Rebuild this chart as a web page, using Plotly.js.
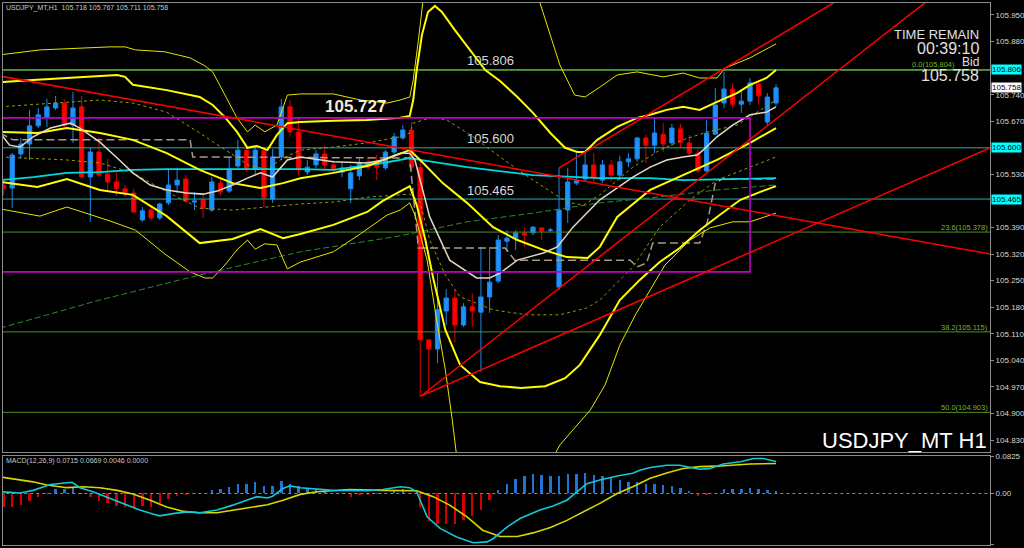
<!DOCTYPE html>
<html><head><meta charset="utf-8">
<script src="https://cdn.plot.ly/plotly-3.0.1.min.js"></script>
<style>html,body{margin:0;padding:0;background:#000;}#chart{width:1024px;height:548px;}</style>
</head><body><div id="chart"></div>
<script>
// ---------------- DATA ----------------
const symbolName = 'USDJPY_MT';
const timeframe = 'H1';
const open = [
105.502,105.494,105.584,105.610,105.658,105.681,105.705,105.718,105.660,105.708,
105.523,105.589,105.531,105.510,105.492,105.481,105.410,105.436,105.415,105.455,
105.502,105.518,105.457,105.463,105.436,105.507,105.486,105.552,105.594,105.544,
105.592,105.465,105.576,105.708,105.642,105.536,105.555,105.584,105.555,105.536,
105.492,105.526,105.563,105.563,105.547,105.589,105.626,105.647,105.549,105.094,
105.070,105.170,105.204,105.133,105.181,105.167,105.207,105.249,105.354,105.362,
105.376,105.376,105.389,105.383,105.233,105.436,105.507,105.518,105.555,105.515,
105.555,105.528,105.563,105.571,105.626,105.607,105.636,105.613,105.650,105.613,
105.586,105.539,105.636,105.718,105.755,105.715,105.723,105.768,105.668,105.718];
const high = [
105.515,105.586,105.626,105.700,105.705,105.729,105.737,105.729,105.747,105.737,
105.600,105.629,105.571,105.536,105.502,105.492,105.444,105.447,105.455,105.544,
105.547,105.528,105.484,105.476,105.523,105.520,105.576,105.621,105.605,105.602,
105.602,105.597,105.729,105.726,105.679,105.568,105.594,105.605,105.568,105.560,
105.555,105.573,105.576,105.581,105.594,105.639,105.660,105.668,105.568,105.094,
105.270,105.228,105.225,105.191,105.217,105.339,105.339,105.370,105.383,105.383,
105.391,105.394,105.391,105.389,105.547,105.547,105.586,105.586,105.586,105.568,
105.568,105.579,105.586,105.629,105.634,105.679,105.665,105.663,105.663,105.634,
105.600,105.673,105.758,105.800,105.771,105.755,105.784,105.779,105.744,105.767];
const low = [
105.476,105.441,105.571,105.568,105.652,105.655,105.700,105.655,105.613,105.520,
105.405,105.523,105.486,105.473,105.470,105.428,105.405,105.410,105.410,105.449,
105.481,105.455,105.436,105.415,105.431,105.476,105.481,105.547,105.536,105.528,
105.444,105.455,105.568,105.629,105.528,105.528,105.547,105.542,105.534,105.523,
105.455,105.515,105.542,105.515,105.542,105.581,105.621,105.542,104.943,104.954,
105.033,105.133,105.088,105.128,105.128,105.009,105.165,105.244,105.326,105.331,
105.339,105.370,105.357,105.378,105.225,105.402,105.502,105.510,105.502,105.507,
105.510,105.515,105.549,105.563,105.560,105.586,105.589,105.605,105.600,105.581,
105.534,105.536,105.634,105.705,105.705,105.692,105.713,105.713,105.660,105.711];
const close = [
105.492,105.581,105.610,105.658,105.687,105.708,105.718,105.660,105.705,105.523,
105.589,105.528,105.510,105.492,105.481,105.431,105.434,105.415,105.452,105.502,
105.515,105.460,105.460,105.441,105.510,105.484,105.544,105.594,105.544,105.594,
105.468,105.576,105.708,105.642,105.542,105.549,105.584,105.555,105.542,105.547,
105.534,105.560,105.549,105.549,105.589,105.629,105.647,105.549,105.094,105.070,
105.173,105.204,105.133,105.181,105.170,105.207,105.246,105.357,105.362,105.376,
105.370,105.391,105.381,105.383,105.436,105.510,105.513,105.555,105.523,105.555,
105.528,105.563,105.571,105.626,105.607,105.639,105.610,105.652,105.615,105.586,
105.539,105.639,105.713,105.755,105.715,105.723,105.771,105.737,105.734,105.758];

const bbU3X = [-0.4,4.2,12.3,14.0,15.2,18.6,21.5,23.2,24.1,25.5,26.9,28.1,29.0,30.1,31.5,32.7,34.2,38.0,41.1,44.2,45.7,46.8,47.2,47.8,48.3,49.1,60.7,61.8,63.0,64.1,65.8,67.0,68.7,70.7,73.0,76.0,78.3,80.2,82.2,83.1,86.0,88.3,89];
const bbU3Y = [105.845,105.858,105.866,105.866,105.858,105.853,105.837,105.816,105.800,105.739,105.679,105.642,105.660,105.642,105.660,105.739,105.742,105.742,105.726,105.718,105.726,105.734,105.779,105.884,105.982,106.095,106.095,105.982,105.897,105.818,105.739,105.734,105.760,105.792,105.800,105.787,105.797,105.784,105.784,105.810,105.837,105.866,105.874];
const bbU2X = [-0.4,3.4,13.1,14.0,14.9,18.8,22.6,24.1,25.5,26.9,28.1,29.2,30.4,31.5,32.7,34.2,38.0,41.9,45.7,46.8,47.2,47.6,48.2,48.9,49.7,50.5,52.0,53.7,55.5,57.2,59.2,61.0,63.0,64.7,66.1,67.0,68.4,70.7,73.0,74.5,76.4,78.3,80.2,82.2,84.5,86.0,87.9,89];
const bbU2Y = [105.773,105.779,105.792,105.787,105.766,105.752,105.734,105.713,105.681,105.642,105.600,105.605,105.594,105.634,105.665,105.668,105.671,105.673,105.679,105.684,105.726,105.805,105.897,105.958,105.974,105.958,105.910,105.858,105.805,105.776,105.734,105.692,105.639,105.600,105.589,105.589,105.621,105.655,105.679,105.687,105.700,105.708,105.700,105.721,105.744,105.766,105.784,105.805];
const bbU1X = [-0.4,5.4,11.1,14.9,18.8,22.6,26.4,28.4,30.4,32.2,34.2,38.0,41.9,45.7,46.8,47.2,49.5,51.1,54.1,57.2,61.0,64.9,66.8,68.7,72.5,75.6,78.3,81.1,84.5,89];
const bbU1Y = [105.708,105.718,105.726,105.718,105.694,105.639,105.581,105.552,105.544,105.573,105.594,105.602,105.613,105.629,105.639,105.665,105.681,105.673,105.629,105.576,105.515,105.457,105.449,105.476,105.549,105.594,105.621,105.642,105.660,105.726];
const bbMidX = [-0.4,3.9,7.3,11.1,14.9,18.8,22.6,26.4,29.6,32.2,34.2,38.0,41.9,43.7,46.8,48.0,50.6,53.4,56.4,59.2,62.2,64.9,67.3,68.7,70.7,74.5,78.3,82.2,86.0,89];
const bbMidY = [105.642,105.639,105.652,105.639,105.621,105.586,105.542,105.507,105.494,105.507,105.520,105.534,105.552,105.568,105.594,105.568,105.507,105.455,105.391,105.357,105.331,105.312,105.310,105.339,105.418,105.489,105.528,105.568,105.613,105.652];
const bbL1X = [-0.4,2.7,7.3,11.1,14.9,18.8,22.6,26.4,30.4,34.2,38.0,41.9,45.7,46.8,48.0,49.1,50.9,52.6,56.4,60.3,64.1,67.2,68.7,72.5,75.6,79.1,82.2,86.0,89];
const bbL1Y = [105.576,105.573,105.568,105.560,105.534,105.484,105.441,105.436,105.444,105.452,105.457,105.470,105.476,105.478,105.457,105.357,105.265,105.207,105.173,105.160,105.160,105.178,105.199,105.286,105.391,105.463,105.515,105.549,105.576];
const bbL2X = [-0.4,3.9,7.3,11.1,14.9,18.8,22.6,26.4,29.6,32.2,34.2,38.0,41.9,43.7,46.8,47.6,48.6,49.5,50.9,52.6,54.9,57.2,59.6,62.4,64.7,66.4,68.7,71.0,73.3,75.6,77.9,80.2,82.5,84.9,87.2,89];
const bbL2Y = [105.510,105.497,105.518,105.489,105.476,105.420,105.349,105.360,105.386,105.362,105.373,105.397,105.431,105.460,105.499,105.449,105.357,105.257,105.120,105.028,104.983,104.972,104.967,104.972,104.993,105.028,105.107,105.199,105.252,105.299,105.336,105.383,105.423,105.463,105.484,105.499];
const bbL3X = [-0.4,4.2,7.3,12.3,15.2,18.6,21.5,23.2,24.1,25.5,26.9,28.1,29.0,30.1,31.5,32.7,34.2,38.0,41.1,44.2,45.7,46.8,47.4,48.8,49.9,50.9,51.7,52.4,53.7,61.8,63.0,64.1,65.8,67.6,69.3,71.0,72.8,74.5,76.2,79.1,81.4,84.0,86.0,87.7,89];
const bbL3Y = [105.439,105.420,105.444,105.407,105.383,105.320,105.273,105.257,105.257,105.291,105.331,105.357,105.333,105.347,105.344,105.281,105.299,105.326,105.373,105.423,105.436,105.455,105.423,105.304,105.146,105.015,104.883,104.751,104.725,104.725,104.772,104.817,104.862,104.909,104.975,105.080,105.160,105.225,105.291,105.357,105.389,105.405,105.405,105.418,105.428];

// Moving averages
const maFastX = [-0.4,0.7,1.9,3.4,5.4,7.7,8.8,11.1,13.1,14.9,16.9,18.8,21.1,23.0,24.6,26.4,28.1,29.6,31.0,32.7,34.2,38.0,41.9,43.7,45.7,46.8,47.4,48.0,49.1,51.4,54.5,56.0,57.2,59.2,62.2,63.8,65.6,68.7,70.7,72.5,74.5,76.4,78.3,79.9,80.6,82.2,84.0,86.0,87.9,89];
const maFastY = [105.639,105.607,105.602,105.629,105.652,105.665,105.652,105.615,105.573,105.534,105.502,105.489,105.481,105.478,105.486,105.502,105.520,105.534,105.523,105.568,105.576,105.563,105.560,105.568,105.586,105.586,105.568,105.515,105.418,105.304,105.257,105.257,105.270,105.304,105.323,105.339,105.391,105.463,105.494,105.523,105.549,105.568,105.576,105.581,105.594,105.629,105.660,105.687,105.694,105.708];
const maMidX = [-0.4,3.4,7.3,11.1,14.9,18.8,30.4,34.2,38.0,43.7,46.8,48.0,53.4,61.0,68.7,74.5,78.3,89];
const maMidY = [105.515,105.523,105.534,105.536,105.542,105.544,105.544,105.544,105.542,105.560,105.573,105.568,105.549,105.528,105.520,105.520,105.515,105.520];
const maSlowX = [-0.4,11.1,22.6,34.2,45.7,53.4,61.0,68.7,74.5,82.2,89];
const maSlowY = [105.125,105.199,105.265,105.326,105.368,105.405,105.428,105.455,105.468,105.489,105.502];
const baseX = [-0.4,1.1,21.5,21.8,46.8,47.8,57.8,58.9,72.2,73.0,74.1,74.8,80.2,81.1,82.0,82.8,89];
const baseY = [105.639,105.621,105.621,105.576,105.573,105.336,105.336,105.304,105.304,105.286,105.297,105.349,105.349,105.405,105.507,105.518,105.518];

// Objects
const hLevels = [105.806, 105.600, 105.465];
const fibRatios = [0.0, 23.6, 38.2, 50.0];
const fibPrices = [105.804, 105.378, 105.115, 104.903];
const boxX = [-5, 86.0];
const boxY = [105.679, 105.273];
const trendLines = [
  {x:[-0.4,113.65], y:[105.789,105.320]},
  {x:[64.0,97.5],   y:[105.547,106.008]},
  {x:[48.1,106.7],  y:[104.946,105.992]},
  {x:[48.1,113.65], y:[104.946,105.600]}
];
const markLabel = 105.727;
const bidPrice = 105.758;
const timeRemain = '00:39:10';

// MACD(12,26,9)
const macdHist = [
-0.031,-0.030,-0.025,-0.017,-0.007,-0.001,0.009,0.009,0.013,-0.002,
-0.007,-0.016,-0.022,-0.028,-0.031,-0.032,-0.028,-0.030,-0.022,-0.013,
-0.006,-0.004,-0.001,0.000,0.007,0.009,0.015,0.021,0.021,0.025,
0.017,0.017,0.028,0.022,0.017,0.011,0.010,0.006,0.002,-0.002,
-0.007,-0.004,-0.004,-0.002,0.001,0.006,0.009,0.001,-0.031,-0.061,
-0.067,-0.067,-0.067,-0.060,-0.050,-0.036,-0.015,0.007,0.022,0.032,
0.039,0.043,0.041,0.039,0.039,0.043,0.043,0.045,0.041,0.039,
0.034,0.030,0.026,0.025,0.022,0.021,0.019,0.016,0.013,0.005,
-0.005,-0.004,0.000,0.009,0.010,0.010,0.013,0.011,0.007,0.0046];
const macdX = [-0.4,1.9,3.4,5.4,7.3,7.9,8.8,10.3,12.3,14.2,15.7,17.2,18.0,19.5,21.1,22.6,24.6,26.4,28.1,29.2,30.4,31.0,32.2,33.0,34.2,38.0,41.9,43.7,45.7,46.8,47.6,48.8,50.3,52.2,54.1,55.7,56.4,58.0,59.5,61.8,63.3,64.9,66.1,67.2,68.7,70.7,72.5,73.3,74.5,76.4,77.9,79.1,80.2,81.4,82.9,84.9,86.4,87.5,89];
const macdY = [0.004,0.001,0.007,0.020,0.024,0.025,0.013,0.004,-0.011,-0.026,-0.037,-0.046,-0.050,-0.045,-0.041,-0.043,-0.037,-0.026,-0.015,-0.007,-0.010,-0.006,0.011,0.017,0.013,0.007,0.006,0.009,0.015,0.013,0.004,-0.052,-0.078,-0.097,-0.110,-0.108,-0.101,-0.075,-0.056,-0.037,-0.028,-0.015,0.004,0.022,0.030,0.039,0.045,0.052,0.058,0.063,0.063,0.058,0.054,0.056,0.066,0.071,0.078,0.078,0.0715];
const signalX = [-0.4,3.4,5.0,7.3,9.2,11.1,13.1,14.9,16.9,18.8,20.7,22.6,24.6,26.4,28.4,30.4,32.2,34.2,36.1,38.0,39.9,43.7,47.6,49.5,51.4,53.4,55.2,57.2,59.2,61.0,63.0,64.9,66.8,68.7,70.7,72.5,74.5,76.4,78.3,80.2,82.2,84.0,86.0,89];
const signalY = [0.037,0.026,0.019,0.013,0.015,0.013,0.007,-0.001,-0.015,-0.030,-0.040,-0.043,-0.043,-0.037,-0.031,-0.025,-0.015,-0.002,0.004,0.007,0.009,0.007,0.006,-0.007,-0.026,-0.052,-0.082,-0.096,-0.096,-0.088,-0.076,-0.060,-0.041,-0.022,0.000,0.015,0.034,0.046,0.056,0.060,0.061,0.063,0.066,0.0669];
const macdTicks = [0.0825, 0.0, -0.1148];
const priceTicks = [105.950,105.880,105.810,105.740,105.670,105.600,105.530,105.460,105.390,105.320,105.250,105.180,105.110,105.040,104.970,104.900,104.830];

// ---------------- RENDER ----------------
const XR = [-0.06, 113.65];
const barIdx = open.map((_, i) => i);
const FONT = 'Liberation Sans, Arial, sans-serif';
const PX = x => (x - 3) / 987;
const PY = y => (545 - y) / 542;

function ln(x, y, color, width, dash, ax) {
  return {type:'scatter', mode:'lines', x:x, y:y, xaxis: ax ? 'x2':'x', yaxis: ax ? 'y2':'y',
    line:{color:color, width:width, dash:dash || 'solid'}, hoverinfo:'skip'};
}

const traces = [];
traces.push({type:'candlestick', x:barIdx, open:open, high:high, low:low, close:close, xaxis:'x', yaxis:'y',
  increasing:{line:{color:'#1e88e8', width:1}, fillcolor:'#1e90ff'},
  decreasing:{line:{color:'#e00000', width:1}, fillcolor:'#ff0000'},
  whiskerwidth:0, hoverinfo:'skip'});

fibPrices.forEach(p => traces.push(ln([XR[0]-1, XR[1]+1], [p, p], '#4f8f1f', 1)));
hLevels.forEach(p => traces.push(ln([XR[0]-1, XR[1]+1], [p, p], '#20b2aa', 1)));

traces.push(ln(maSlowX, maSlowY, '#2e8b2e', 1, '6px,3px'));
traces.push(ln(baseX, baseY, '#a89888', 1.5, '8px,4px'));
traces.push(ln(bbU1X, bbU1Y, '#9a9a00', 1, 'dot'));
traces.push(ln(bbL1X, bbL1Y, '#9a9a00', 1, 'dot'));
traces.push(ln(bbU3X, bbU3Y, '#e6e600', 1));
traces.push(ln(bbL3X, bbL3Y, '#e6e600', 1));
traces.push(ln(maMidX, maMidY, '#00d8e0', 1.8));
traces.push(ln(bbU2X, bbU2Y, '#ffff00', 2));
traces.push(ln(bbL2X, bbL2Y, '#ffff00', 2));
traces.push(ln(bbMidX, bbMidY, '#ffff00', 2));
traces.push(ln(maFastX, maFastY, '#e6d6c6', 1.5));

traces.push(ln([boxX[0], boxX[1], boxX[1], boxX[0]], [boxY[0], boxY[0], boxY[1], boxY[1]], '#c000c8', 1.6));
trendLines.forEach(t => traces.push(ln(t.x, t.y, '#ff0000', 1.5)));

traces.push({type:'bar', x:barIdx, y:macdHist, xaxis:'x2', yaxis:'y2', width:0.28,
  marker:{color: macdHist.map(v => v >= 0 ? '#1f74d6' : '#d40000'), line:{width:0}}, hoverinfo:'skip'});
traces.push(ln([XR[0]-1, XR[1]+1], [0, 0], '#8a8a8a', 1, 'dot', true));
traces.push(ln(signalX, signalY, '#d6d600', 1.6, 'solid', true));
traces.push(ln(macdX, macdY, '#10c8d8', 1.6, 'solid', true));

const ann = [];
function A(o) { ann.push(Object.assign({showarrow:false, borderpad:0, font:{family:FONT, size:8, color:'#d8d8d8'}}, o)); }

A({xref:'paper', yref:'paper', x:PX(5), y:PY(8), xanchor:'left', yanchor:'middle',
   text: symbolName + ',' + timeframe + '\u00a0\u00a0' + [open[89], high[89], low[89], close[89]].map(v => v.toFixed(3)).join(' '),
   font:{family:FONT, size:7, color:'#c8c8c8'}});
A({xref:'paper', yref:'paper', x:PX(5), y:PY(461), xanchor:'left', yanchor:'middle',
   text: 'MACD(12,26,9) ' + macdY[macdY.length-1].toFixed(4) + ' ' + signalY[signalY.length-1].toFixed(4) + ' ' + macdHist[89].toFixed(4) + ' 0.0000',
   font:{family:FONT, size:7, color:'#c8c8c8'}});
hLevels.forEach(p => A({xref:'x', yref:'y', x:56.1, y:p, xanchor:'center', yanchor:'middle', yshift:9,
   text:p.toFixed(3), font:{family:FONT, size:13, color:'#d8d8d8'}}));
A({xref:'x', yref:'y', x:36.9, y:markLabel, xanchor:'left', yanchor:'top', yshift:4, text:'<b>' + markLabel.toFixed(3) + '</b>',
   font:{family:FONT, size:17, color:'#f3ead8'}});
A({xref:'paper', yref:'paper', x:PX(980), y:PY(35), xanchor:'right', yanchor:'middle', text:'TIME REMAIN', font:{family:FONT, size:13, color:'#e0e0e0'}});
A({xref:'paper', yref:'paper', x:PX(980), y:PY(48.5), xanchor:'right', yanchor:'middle', text:timeRemain, font:{family:FONT, size:16, color:'#e0e0e0'}});
A({xref:'paper', yref:'paper', x:PX(980), y:PY(62), xanchor:'right', yanchor:'middle', text:'Bid', font:{family:FONT, size:12, color:'#e0e0e0'}});
A({xref:'paper', yref:'paper', x:PX(980), y:PY(76), xanchor:'right', yanchor:'middle', text:bidPrice.toFixed(3), font:{family:FONT, size:16, color:'#e0e0e0'}});
A({xref:'paper', yref:'paper', x:PX(988), y:PY(440), xanchor:'right', yanchor:'middle', text:symbolName + ' ' + timeframe, font:{family:FONT, size:22, color:'#ffffff'}});
fibPrices.forEach((p, i) => A({xref:'paper', yref:'y', x:PX(i === 0 ? 956 : 989), y:p, xanchor:'right', yanchor:'bottom', yshift:i === 0 ? 0 : -1,
   text: fibRatios[i].toFixed(1) + '(' + p.toFixed(3) + ')', font:{family:FONT, size:7.5, color:'#7cb330'}}));
hLevels.forEach(p => A({xref:'paper', yref:'y', x:PX(991), y:p, xanchor:'left', yanchor:'middle',
   bgcolor:'#00ffff', text:p.toFixed(3), font:{family:FONT, size:8, color:'#000000'}}));
A({xref:'paper', yref:'y', x:PX(991), y:bidPrice, xanchor:'left', yanchor:'middle',
   bgcolor:'#ffffff', text:bidPrice.toFixed(3), font:{family:FONT, size:8, color:'#000000'}});

// tick labels hidden behind the axis boxes are left out
const shownTicks = priceTicks.filter(t => hLevels.every(h => Math.abs(h - t) > 0.006));

const axCommon = {showgrid:false, zeroline:false, showline:true, mirror:true, linecolor:'#8c8c8c', linewidth:1, fixedrange:true};
const layout = {
  width:1024, height:548, margin:{l:3, r:34, t:3, b:3},
  paper_bgcolor:'#000000', plot_bgcolor:'#000000', showlegend:false, bargap:0,
  xaxis: Object.assign({}, axCommon, {domain:[0,1], range:XR, anchor:'y', showticklabels:false, ticks:'', rangeslider:{visible:false}}),
  yaxis: Object.assign({}, axCommon, {domain:[0.1716,1], range:[104.7985,105.9816], side:'right', anchor:'x',
     tickmode:'array', tickvals:shownTicks, ticktext:shownTicks.map(v => v.toFixed(3)), ticks:'outside', ticklen:3, tickcolor:'#8c8c8c',
     tickfont:{family:FONT, size:8, color:'#d8d8d8'}}),
  xaxis2: Object.assign({}, axCommon, {domain:[0,1], range:XR, anchor:'y2', showticklabels:false, ticks:''}),
  yaxis2: Object.assign({}, axCommon, {domain:[0,0.1642], range:[-0.1150,0.0837], side:'right', anchor:'x2',
     tickmode:'array', tickvals:macdTicks, ticktext:macdTicks.map(v => v === 0 ? '0.00' : v.toFixed(4)), ticks:'outside', ticklen:3, tickcolor:'#8c8c8c',
     tickfont:{family:FONT, size:8, color:'#d8d8d8'}}),
  annotations: ann
};
Plotly.newPlot('chart', traces, layout, {staticPlot:true, displayModeBar:false});
</script></body></html>
